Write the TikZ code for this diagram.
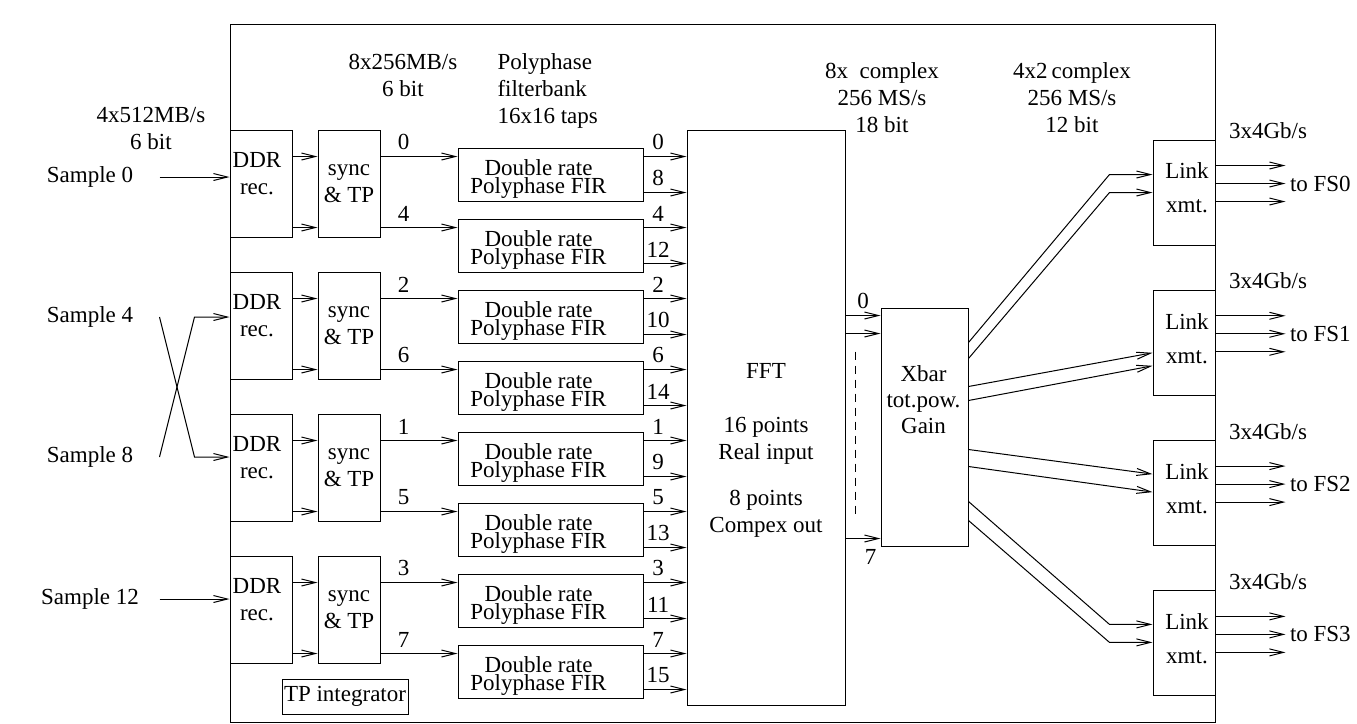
\documentclass[tikz,border=0pt]{standalone}
\usepackage{fontspec}
\setmainfont{Liberation Serif}
\usetikzlibrary{arrows.meta,calc}

\begin{document}
\begin{tikzpicture}[x=0.5pt, y=-0.5pt, line width=0.5pt,
  every node/.style={inner sep=0pt, font=\fontsize{11.5}{13.5}\selectfont},
  box/.style 2 args={draw, minimum width=#1, minimum height=#2},
  sig/.style={-{Straight Barb[length=7pt, width=3.5pt]}},
  num/.style={above=3pt},
  firtext/.style={align=center, font=\fontsize{11.5}{9}\selectfont}]

  \useasboundingbox (0,0) rectangle (1357,724);

  % board outline
  \node[box={492.5pt}{349pt}] (board) at (722.5,373) {};

  % rates along the top
  \node[align=center, anchor=north] at (151,107) {4x512MB/s\\6 bit};
  \node[align=center, anchor=north] at (403,54) {8x256MB/s\\6 bit};
  \node[align=left, anchor=north west] at (497,53) {Polyphase\\filterbank\\16x16 taps};
  \node[align=center, anchor=north] at (882,62) {8x\ \ complex\\256 MS/s\\18 bit};
  \node[align=center, anchor=north] at (1072,62) {4x2\,complex\\256 MS/s\\12 bit};

  % sample inputs
  \node (s0) at (90,177) {Sample 0};
  \node (s4) at (90,317) {Sample 4};
  \node (s8) at (90,457) {Sample 8};
  \node (s12) at (90,599) {Sample 12};

  % receivers, sync & TP
  \foreach \i in {0,...,3} {
    \node[box={31pt}{53.5pt}] (ddr\i) at (261,183.5+142*\i) {};
    \node[align=center] at ([xshift=-2pt, yshift=5pt]ddr\i.center) {DDR\\rec.};
    \node[box={31pt}{53.5pt}, align=center] (sync\i) at (349,183.5+142*\i) {sync\\\& TP};
    \draw[sig] ($(ddr\i.north east)+(0,27)$) -- ($(sync\i.north west)+(0,27)$);
    \draw[sig] ($(ddr\i.north east)+(0,98)$) -- ($(sync\i.north west)+(0,98)$);
  }

  \draw[sig] ($(s0 -| ddr0.west)+(-70,0)$) -- (s0 -| ddr0.west);
  \draw[sig] ($(s12 -| ddr3.west)+(-70,0)$) -- (s12 -| ddr3.west);
  % sample 4 and 8 swap
  \draw[sig] ($(s4 -| ddr1.west)+(-70,0)$) -- ($(s8 -| ddr2.west)+(-35,0)$) -- (s8 -| ddr2.west);
  \draw[sig] ($(s8 -| ddr2.west)+(-70,0)$) -- ($(s4 -| ddr1.west)+(-35,0)$) -- (s4 -| ddr1.west);

  \node[draw, inner sep=1pt, minimum width=62pt, minimum height=17.5pt] (tpint) at (345,696.5) {TP integrator};

  % FFT
  \node[box={79pt}{287.5pt}] (fft) at (766,417.5) {};
  \node[align=center, anchor=north] at ($(fft.north)+(0,233)$) {FFT\\[13.5pt]16 points\\Real input\\[9.5pt]8 points\\Compex out};

  % polyphase FIR rows
  \foreach \j/\n in {0/0,1/4,2/2,3/6,4/1,5/5,6/3,7/7} {
    \pgfmathtruncatemacro\s{int(\j/2)}
    \pgfmathtruncatemacro\m{\n+8}
    \node[box={92.5pt}{26.5pt}] (fir\j) at (550.5,174.5+71*\j) {};
    \node[firtext] at ([xshift=-6pt, yshift=-2pt]fir\j.center) {Double rate\\Polyphase FIR};
    \coordinate (fin) at ($(fir\j.north west)+(0,9)$);
    \coordinate (fhi) at ($(fir\j.north east)+(0,9)$);
    \coordinate (flo) at ($(fir\j.north east)+(0,45)$);
    \draw[sig] (fin -| sync\s.east) -- node[num, pos=0.3] {\n} (fin);
    \draw[sig] (fhi) -- node[num, pos=0.34] {\n} (fhi -| fft.west);
    \draw[sig] (flo) -- node[num, pos=0.34] {\m} (flo -| fft.west);
  }

  % crossbar
  \node[box={43.5pt}{119pt}] (xbar) at (924.5,427) {};
  \node[align=center, anchor=north, font=\fontsize{11.5}{12.8}\selectfont] at ($(xbar.north)+(-1,58)$) {Xbar\\tot.pow.\\Gain};

  \coordinate (x0) at ($(xbar.north west)+(0,8)$);
  \coordinate (x1) at ($(xbar.north west)+(0,26)$);
  \coordinate (x7) at ($(xbar.south west)+(0,-8)$);
  \draw[sig] (x0 -| fft.east) -- node[num] {0} (x0);
  \draw[sig] (x1 -| fft.east) -- (x1);
  \draw[sig] (x7 -| fft.east) -- node[below=5pt, pos=0.72] {7} (x7);
  \draw[dash pattern=on 4pt off 3pt] ($(fft.north east)+(10,222)$) -- ($(fft.north east)+(10,385)$);

  % link transmitters
  \foreach \k in {0,...,3} {
    \node[box={31pt}{52.5pt}] (link\k) at (1184,192.5+150.3*\k) {};
    \node[align=center, anchor=north] at ($(link\k.north)+(3,23)$) {Link\\[3.5pt]xmt.};
    \node[anchor=base west] at ($(link\k.north east)+(13,-1)$) {3x4Gb/s};
    \node[anchor=west] (fs\k) at ($(link\k.north east)+(74,44)$) {to FS\k};
    \foreach \dy in {26,44,62} {
      \coordinate (o) at ($(link\k.north east)+(0,\dy)$);
      \draw[sig] (o) -- ($(o -| fs\k.west)+(-4,0)$);
    }
  }

  % crossbar to links
  \draw[sig] ($(xbar.north east)+(0,35)$) -- ($(link0.north west)+(-43,35)$) -- ($(link0.north west)+(0,35)$);
  \draw[sig] ($(xbar.north east)+(0,51)$) -- ($(link0.north west)+(-43,53)$) -- ($(link0.north west)+(0,53)$);
  \draw[sig] ($(xbar.north east)+(0,79)$) -- ($(link1.north west)+(0,63)$);
  \draw[sig] ($(xbar.north east)+(0,93)$) -- ($(link1.north west)+(0,76)$);
  \draw[sig] ($(xbar.north east)+(0,142)$) -- ($(link2.north west)+(0,34)$);
  \draw[sig] ($(xbar.north east)+(0,159)$) -- ($(link2.north west)+(0,52)$);
  \draw[sig] ($(xbar.north east)+(0,194)$) -- ($(link3.north west)+(-43,34)$) -- ($(link3.north west)+(0,34)$);
  \draw[sig] ($(xbar.north east)+(0,213)$) -- ($(link3.north west)+(-43,52)$) -- ($(link3.north west)+(0,52)$);

\end{tikzpicture}
\end{document}
